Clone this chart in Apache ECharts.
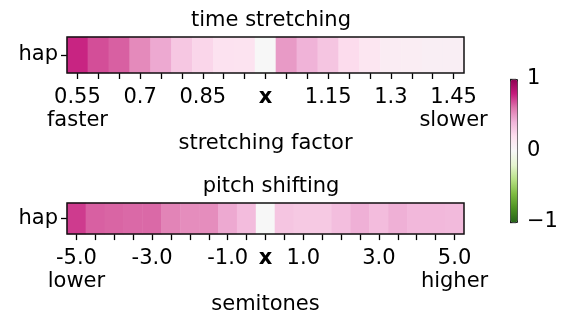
<!DOCTYPE html>
<html>
<head>
<meta charset="utf-8">
<script src="https://cdn.jsdelivr.net/npm/echarts@6/dist/echarts.min.js"></script>
<style>
  html, body { margin: 0; padding: 0; background: #fff; }
  #chart { width: 565px; height: 316px; }
</style>
</head>
<body>
<div id="chart"></div>
<script>
  // stretching factors, 1.0 is the reference ("x")
  var stretchLabels = ['0.55', '0.6', '0.65', '0.7', '0.75', '0.8', '0.85', '0.9', '0.95', 'x',
    '1.05', '1.1', '1.15', '1.2', '1.25', '1.3', '1.35', '1.4', '1.45']
  var stretchValues = [0.78, 0.69, 0.65, 0.54, 0.44, 0.32, 0.25, 0.18, 0.17, 0,
    0.49, 0.41, 0.33, 0.22, 0.15, 0.1, 0.09, 0.08, 0.08]
  var stretchShown = [0, 3, 6, 9, 12, 15, 18]

  // semitones, 0 is the reference ("x")
  var pitchLabels = ['-5.0', '-4.5', '-4.0', '-3.5', '-3.0', '-2.5', '-2.0', '-1.5', '-1.0', '-0.5', 'x',
    '0.5', '1.0', '1.5', '2.0', '2.5', '3.0', '3.5', '4.0', '4.5', '5.0']
  var pitchValues = [0.73, 0.65, 0.64, 0.63, 0.63, 0.56, 0.53, 0.53, 0.44, 0.37, 0,
    0.33, 0.31, 0.31, 0.36, 0.42, 0.37, 0.42, 0.39, 0.39, 0.38]
  var pitchShown = [0, 4, 8, 10, 12, 16, 20]

  var rowLabels = ['hap']
  var colorbarTicks = [-1, 0, 1]

  // PiYG, low -> high
  var piyg = ['#276419', '#4d9221', '#7fbc41', '#b8e186', '#e6f5d0', '#f7f7f7',
    '#fde0ef', '#f1b6da', '#de77ae', '#c51b7d', '#8e0152']

  var font = 'DejaVu Sans'
  var fs = 21

  function cells(values) {
    return values.map(function (v, i) { return [i, 0, v] })
  }

  function xAxisFor(idx, labels, shown, first, last, name) {
    return {
      gridIndex: idx,
      type: 'category',
      data: labels,
      name: name,
      nameLocation: 'middle',
      nameGap: 50,
      nameTextStyle: { fontFamily: font, fontSize: fs, color: '#000' },
      axisLine: { show: false },
      axisTick: { show: true, alignWithLabel: true, interval: 0, length: 6, lineStyle: { color: '#000', width: 1.3 } },
      splitLine: { show: false },
      splitArea: { show: false },
      axisLabel: {
        interval: function (i) { return shown.indexOf(i) >= 0 },
        margin: 13,
        color: '#000',
        fontFamily: font,
        fontSize: fs,
        lineHeight: 23,
        formatter: function (v, i) {
          if (v === 'x') return '{b|x}'
          if (i === 0) return v + '\n' + first
          if (i === labels.length - 1) return v + '\n' + last
          return v
        },
        rich: {
          b: { fontWeight: 'bold', fontFamily: font, fontSize: fs, color: '#000', lineHeight: 23 }
        }
      }
    }
  }

  function yAxisFor(idx) {
    return {
      gridIndex: idx,
      type: 'category',
      data: rowLabels,
      axisLine: { show: false },
      axisTick: { show: true, alignWithLabel: true, length: 6, lineStyle: { color: '#000', width: 1.3 } },
      splitArea: { show: false },
      axisLabel: { margin: 9, color: '#000', fontFamily: font, fontSize: fs }
    }
  }

  var chart = echarts.init(document.getElementById('chart'))

  var option = {
    backgroundColor: '#fff',
    animation: false,
    title: [{
      text: 'time stretching',
      left: 266, top: 5, textAlign: 'center',
      textStyle: { fontFamily: font, fontSize: fs, fontWeight: 'normal', color: '#000' }
    }, {
      text: 'pitch shifting',
      left: 266, top: 171, textAlign: 'center',
      textStyle: { fontFamily: font, fontSize: fs, fontWeight: 'normal', color: '#000' }
    }],
    grid: [
      { left: 67, top: 37, width: 397, height: 36, show: true, z: 10, borderColor: '#111', borderWidth: 1.5, backgroundColor: 'transparent' },
      { left: 67, top: 203, width: 397, height: 36, show: true, z: 10, borderColor: '#111', borderWidth: 1.5, backgroundColor: 'transparent' },
      { left: 510, top: 79, width: 7, height: 143 }
    ],
    xAxis: [
      xAxisFor(0, stretchLabels, stretchShown, 'faster', 'slower', 'stretching factor'),
      xAxisFor(1, pitchLabels, pitchShown, 'lower', 'higher', 'semitones'),
      { gridIndex: 2, type: 'value', show: false }
    ],
    yAxis: [
      yAxisFor(0),
      yAxisFor(1),
      {
        gridIndex: 2, type: 'value', position: 'right',
        min: colorbarTicks[0], max: colorbarTicks[2], interval: 1,
        splitLine: { show: false },
        axisLine: { show: false },
        axisTick: { show: true, length: 6, lineStyle: { color: '#000', width: 1.3 } },
        axisLabel: {
          margin: 10, color: '#000', fontFamily: font, fontSize: fs,
          formatter: function (v) { return v < 0 ? '\u2212' + Math.abs(v) : String(v) }
        }
      }
    ],
    visualMap: {
      type: 'continuous',
      min: -1,
      max: 1,
      seriesIndex: [0, 1],
      calculable: false,
      orient: 'vertical',
      left: 510,
      top: 79,
      itemWidth: 7,
      itemHeight: 143,
      padding: 0,
      text: null,
      showLabel: false,
      borderColor: '#222',
      borderWidth: 1,
      inRange: { color: piyg }
    },
    series: [{
      type: 'heatmap',
      xAxisIndex: 0,
      yAxisIndex: 0,
      data: cells(stretchValues)
    }, {
      type: 'heatmap',
      xAxisIndex: 1,
      yAxisIndex: 1,
      data: cells(pitchValues)
    }]
  }

  chart.setOption(option)
</script>
</body>
</html>
